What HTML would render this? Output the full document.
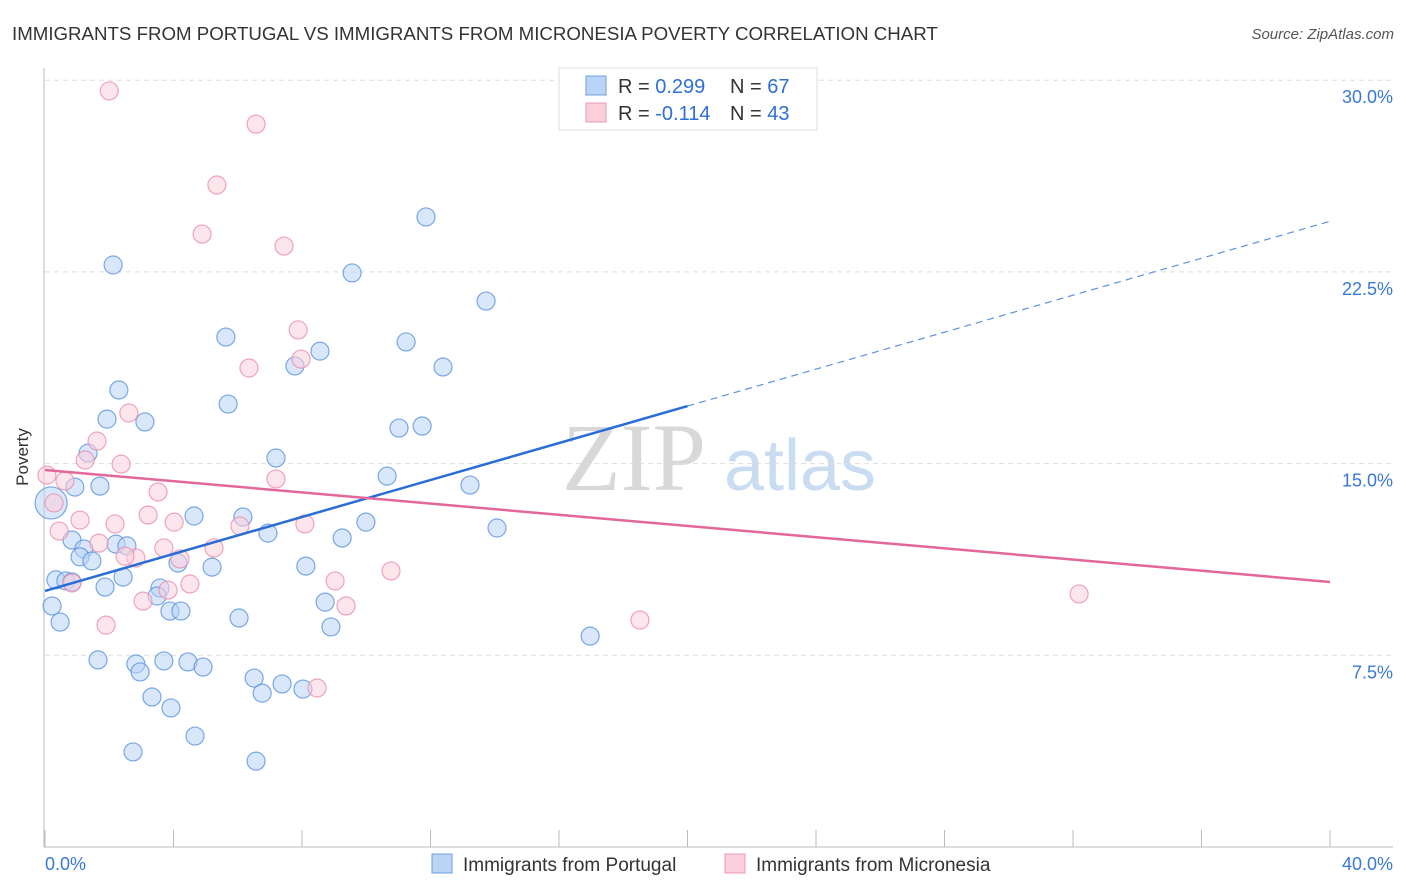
<!DOCTYPE html>
<html><head><meta charset="utf-8">
<style>
body{margin:0;background:#fff;font-family:"Liberation Sans",sans-serif;}
#wrap{position:relative;width:1406px;height:892px;overflow:hidden;}
</style></head>
<body>
<div id="wrap">
<svg id="chart" width="1406" height="892" xmlns="http://www.w3.org/2000/svg" font-family="Liberation Sans, sans-serif">
<text x="12" y="40" font-size="18.7" fill="#333">IMMIGRANTS FROM PORTUGAL VS IMMIGRANTS FROM MICRONESIA POVERTY CORRELATION CHART</text>
<text x="1394" y="39" font-size="15" fill="#555" font-style="italic" text-anchor="end">Source: ZipAtlas.com</text>
<text x="634" y="490" font-size="96" fill="#d8d8d8" font-family="Liberation Serif, serif" text-anchor="middle">ZIP</text>
<text x="800" y="490" font-size="72" fill="#c9dcf2" text-anchor="middle">atlas</text>
<g id="grid"></g>
<g id="axes"></g>
<g id="pts"></g>
<g id="lines"></g>
<text x="28" y="457" font-size="17" fill="#333" text-anchor="middle" transform="rotate(-90 28 457)">Poverty</text>
<g>
<rect x="559" y="68" width="258" height="62" fill="#fff" stroke="#ddd"/>
<rect x="586" y="76" width="20" height="19" fill="#b9d4f5" stroke="#6fa0e0"/>
<rect x="586" y="103" width="20" height="19" fill="#fbcfdc" stroke="#ea9ab4"/>
<text x="618" y="93" font-size="20" fill="#333">R = <tspan fill="#2f6fd6">0.299</tspan></text>
<text x="730" y="93" font-size="20" fill="#333">N = <tspan fill="#2f6fd6">67</tspan></text>
<text x="618" y="120" font-size="20" fill="#333">R = <tspan fill="#2f6fd6">-0.114</tspan></text>
<text x="730" y="120" font-size="20" fill="#333">N = <tspan fill="#2f6fd6">43</tspan></text>
</g>
<g>
<rect x="432" y="854" width="20" height="19" fill="#b9d4f5" stroke="#6fa0e0"/>
<text x="463" y="871" font-size="19" fill="#333">Immigrants from Portugal</text>
<rect x="725" y="854" width="20" height="19" fill="#fbcfdc" stroke="#ea9ab4"/>
<text x="756" y="871" font-size="19" fill="#333">Immigrants from Micronesia</text>
</g>
<text x="45" y="870" font-size="18" fill="#3a78d8">0.0%</text>
<text x="1393" y="870" font-size="18" fill="#3a78d8" text-anchor="end">40.0%</text>
</svg>
</div>
<script>
const blueX=[2.12,11.86,9.56,13.73,5.63,11.24,8.56,7.78,12.39,2.30,5.70,1.93,3.11,11.02,11.74,7.19,1.34,0.93,1.71,10.65,13.23,6.16,9.99,6.94,14.07,0.84,9.25,1.21,2.21,2.55,1.09,1.46,5.20,4.14,8.12,0.34,0.65,0.84,2.43,3.58,1.87,3.49,8.72,0.22,3.89,4.23,6.04,0.47,8.90,16.97,1.65,2.83,2.96,3.70,4.45,4.92,6.51,7.38,6.76,8.03,3.33,3.92,4.67,2.74,6.57,4.64];
const blueY=[22.77,24.65,22.46,21.36,19.95,19.76,19.40,18.82,18.78,17.88,17.33,16.74,16.63,16.39,16.47,15.22,15.41,14.08,14.12,14.51,14.16,12.91,12.71,12.28,12.48,12.01,12.09,11.66,11.85,11.78,11.35,11.19,10.95,11.11,10.99,10.45,10.41,10.37,10.56,10.13,10.17,9.82,9.58,9.43,9.23,9.23,8.96,8.80,8.61,8.25,7.32,7.16,6.85,7.28,7.24,7.04,6.61,6.38,6.02,6.18,5.87,5.44,4.34,3.72,3.36,12.95];
const bigBlue=[0.19,13.46];
const pinkX=[2.0,6.57,5.35,4.89,7.44,7.88,7.97,6.35,2.61,1.62,1.25,2.37,0.06,0.62,7.19,3.52,0.28,3.21,4.02,2.18,1.09,0.44,6.07,8.09,1.68,5.26,3.70,4.20,2.83,2.49,10.77,9.03,0.84,3.83,4.51,3.05,9.37,1.90,18.52,32.19,8.47];
const pinkY=[29.58,28.28,25.90,23.98,23.51,20.23,19.09,18.74,16.98,15.88,15.14,14.98,14.55,14.32,14.40,13.89,13.46,12.99,12.71,12.64,12.79,12.36,12.56,12.64,11.89,11.70,11.70,11.27,11.31,11.38,10.80,10.41,10.33,10.05,10.29,9.62,9.43,8.68,8.88,9.90,6.22];
const blueTrend=[0,10.02,20,17.25,40,24.48];
const pinkTrend=[0,14.75,40,10.37];
const yTicks=[7.5,15,22.5,30];
const yTickLabels=["7.5%","15.0%","22.5%","30.0%"];
const xTicks=[0,4,8,12,16,20,24,28,32,36,40];

const NS="http://www.w3.org/2000/svg";
const X=v=>45+v*(1285/40);
const Y=v=>847-v*(191.7/7.5);
function mk(tag,attrs,parent){const e=document.createElementNS(NS,tag);for(const k in attrs)e.setAttribute(k,attrs[k]);document.getElementById(parent).appendChild(e);return e;}

yTicks.forEach((t,i)=>{
  const g=mk('line',{x1:45,x2:1393,y1:Y(t),y2:Y(t),stroke:'#ddd','stroke-dasharray':'5,4'},'grid');
  
  
  const l=mk('text',{x:1393,y:Y(t)+23,'font-size':18,fill:'#3a78d8','text-anchor':'end'},'grid');
  l.textContent=yTickLabels[i];
  
  
});
const ax=mk('line',{x1:44,x2:44,y1:68,y2:847,stroke:'#bbb'},'axes');


const bx=mk('line',{x1:44,x2:1393,y1:847,y2:847,stroke:'#bbb'},'axes');


xTicks.forEach(t=>{
  const k=mk('line',{x1:X(t),x2:X(t),y1:830,y2:847,stroke:'#bbb'},'axes');
  
  
});

function dot(x,y,r,fill,stroke,name){
  const c=mk('circle',{cx:X(x),cy:Y(y),r:r,fill:fill,'fill-opacity':0.55,stroke:stroke,'stroke-width':1.2,'stroke-opacity':0.8},'pts');
  
  
}
blueX.forEach((x,i)=>dot(x,blueY[i],9,'#b9d4f5','#5b93de','point-portugal'));
dot(bigBlue[0],bigBlue[1],16,'#b9d4f5','#5b93de','point-portugal-large');
pinkX.forEach((x,i)=>dot(x,pinkY[i],9,'#fbcfdc','#ea8fae','point-micronesia'));

const b1=mk('line',{x1:X(blueTrend[0]),y1:Y(blueTrend[1]),x2:X(blueTrend[2]),y2:Y(blueTrend[3]),stroke:'#2a6dd6','stroke-width':2.5},'lines');


const b2=mk('line',{x1:X(blueTrend[2]),y1:Y(blueTrend[3]),x2:X(blueTrend[4]),y2:Y(blueTrend[5]),stroke:'#5b93de','stroke-width':1.2,'stroke-dasharray':'7,5'},'lines');


const p1=mk('line',{x1:X(pinkTrend[0]),y1:Y(pinkTrend[1]),x2:X(pinkTrend[2]),y2:Y(pinkTrend[3]),stroke:'#e4679a','stroke-width':2.5},'lines');


</script>
</body></html>
